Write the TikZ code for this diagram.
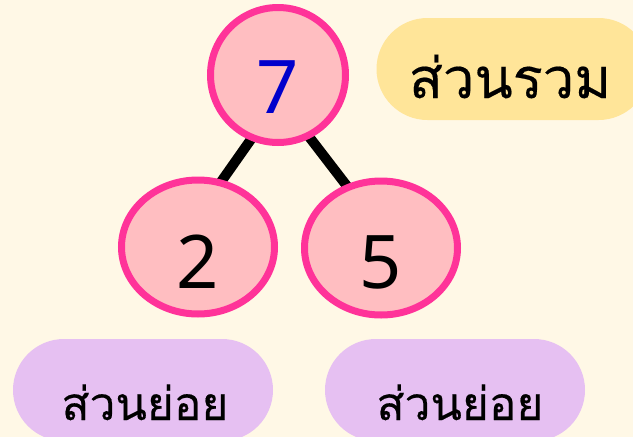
\documentclass[tikz,border=0pt]{standalone}
\usepackage{fontspec}
\setmainfont{Noto Sans}
\newfontfamily\thaifont[Script=Thai, FakeBold=0.35]{Loma}
\usetikzlibrary{shapes.geometric}
\pgfdeclarelayer{bg}
\pgfdeclarelayer{edges}
\pgfsetlayers{bg,edges,main}
\definecolor{bgc}{HTML}{FFF8E6}
\definecolor{pinkc}{HTML}{FFBEC1}
\definecolor{ringc}{HTML}{FF3399}
\definecolor{yellowc}{HTML}{FFE599}
\definecolor{purplec}{HTML}{E6C0F2}
\definecolor{bluec}{HTML}{0000CC}
\begin{document}
\begin{tikzpicture}[x=1pt,y=-1pt,
  numnode/.style={ellipse, draw=ringc, fill=pinkc, line width=7pt, inner sep=0pt, text depth=0pt, font=\fontsize{74}{74}\selectfont},
  edge/.style={line width=10pt, black, shorten <=-6pt, shorten >=-6pt},
  pill/.style={rectangle, rounded corners=51pt, minimum height=102pt, inner sep=0pt},
  sumtext/.style={anchor=base, inner sep=0pt, text depth=0pt, font=\thaifont\fontsize{56}{56}\selectfont},
  parttext/.style={anchor=base, inner sep=0pt, text depth=0pt, font=\thaifont\fontsize{46}{46}\selectfont}]
\useasboundingbox (0,0) rectangle (633,437);
\begin{pgfonlayer}{bg}
\fill[bgc] (0,0) rectangle (633,437);
\end{pgfonlayer}
\node[numnode, circle, minimum size=135pt, text height=76pt, text=bluec] (top) at (278,75) {7};
\node[numnode, minimum width=153pt, minimum height=134pt, text height=82pt] (two) at (198,247) {2};
\node[numnode, minimum width=153pt, minimum height=134pt, text height=80pt] (five) at (381,248) {5};
\begin{pgfonlayer}{edges}
\draw[edge] (top.247.6) -- (two.70.5);
\draw[edge] (top.297.4) -- (five.119.7);
\end{pgfonlayer}
\node[pill, fill=yellowc, minimum width=273pt] (sum) at (513,69) {};
\node[pill, fill=purplec, minimum width=260pt] (partA) at (143,390) {};
\node[pill, fill=purplec, minimum width=260pt] (partB) at (455,390) {};
\node[sumtext] (sumlabel) at (510,98) {ส่วนรวม};
\node[parttext] (partAlabel) at (145,420) {ส่วนย่อย};
\node[parttext] (partBlabel) at (460,420) {ส่วนย่อย};
\end{tikzpicture}
\end{document}
